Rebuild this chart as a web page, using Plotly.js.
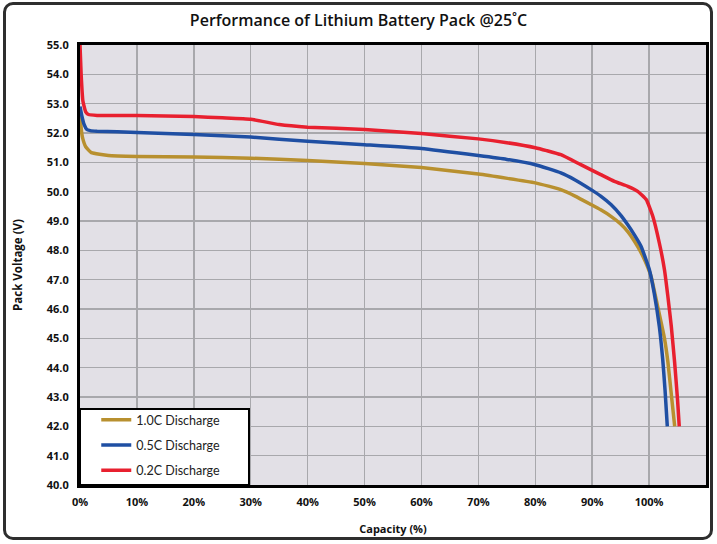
<!DOCTYPE html>
<html>
<head>
<meta charset="utf-8">
<script src="https://cdn.plot.ly/plotly-3.0.1.min.js"></script>
<style>
  html, body { margin: 0; padding: 0; background: #ffffff; }
  #wrap { position: relative; width: 717px; height: 544px; }
  #chart { position: absolute; left: 0; top: 0; width: 717px; height: 544px; }
  #frame { position: absolute; left: 3px; top: 2px; width: 704px; height: 532px;
           border: 3px solid #2e2e2e; border-radius: 10px; pointer-events: none; }
</style>
</head>
<body>
<div id="wrap">
  <div id="chart"></div>
  <div id="frame"></div>
</div>
<script>
// ---- Data ----
const seriesNames = ["1.0C Discharge", "0.5C Discharge", "0.2C Discharge"];
const seriesColors = ["#b8902f", "#1f4fa3", "#e8202f"];

const cap10C = [0, 0.3, 0.5, 1, 2, 5, 10, 20, 30, 40, 50, 60, 70, 80, 84.5, 87, 89.8, 91.5, 93.3, 95, 96.25, 98, 99.2, 100.35, 101.5, 102.7, 103.3, 103.9, 104.5];
const volt10C = [52.6, 52.0, 51.8, 51.53, 51.33, 51.23, 51.2, 51.18, 51.14, 51.06, 50.96, 50.82, 50.6, 50.3, 50.07, 49.85, 49.56, 49.38, 49.16, 48.9, 48.64, 48.13, 47.68, 47.11, 46.09, 45.0, 44.2, 43.1, 42.0];

const cap05C = [0, 0.3, 0.7, 1.2, 1.8, 3, 10, 20, 30, 40, 50, 60, 70, 75, 80, 84.5, 87, 89.8, 91.5, 93.3, 95, 96.25, 97.5, 98.6, 100.05, 100.9, 101.8, 102.4, 102.8, 103.2];
const volt05C = [52.9, 52.6, 52.3, 52.12, 52.08, 52.06, 52.02, 51.95, 51.86, 51.72, 51.6, 51.47, 51.23, 51.1, 50.92, 50.64, 50.4, 50.07, 49.85, 49.56, 49.2, 48.87, 48.5, 48.13, 47.34, 46.54, 45.4, 44.27, 43.24, 42.0];

const cap02C = [0, 0.2, 0.5, 1, 1.5, 3, 10, 20, 25, 30, 35, 40, 50, 60, 70, 75, 80, 82, 84.5, 88, 91.5, 93.9, 96.25, 98, 99.5, 100.65, 101.8, 102.7, 103.3, 103.9, 104.5, 105.0, 105.3];
const volt02C = [55.0, 54.0, 53.1, 52.72, 52.63, 52.6, 52.6, 52.56, 52.52, 52.47, 52.29, 52.2, 52.12, 51.98, 51.8, 51.67, 51.5, 51.4, 51.26, 50.92, 50.58, 50.35, 50.18, 50.01, 49.73, 49.16, 48.25, 47.34, 46.43, 45.41, 44.15, 42.9, 42.0];

const xTickVals = [0, 10, 20, 30, 40, 50, 60, 70, 80, 90, 100, 110];
const xTickText = ["0%", "10%", "20%", "30%", "40%", "50%", "60%", "70%", "80%", "90%", "100%", "110%"];
const yTickVals = [40, 41, 42, 43, 44, 45, 46, 47, 48, 49, 50, 51, 52, 53, 54, 55];
const yTickText = ["40.0", "41.0", "42.0", "43.0", "44.0", "45.0", "46.0", "47.0", "48.0", "49.0", "50.0", "51.0", "52.0", "53.0", "54.0", "55.0"];

// ---- Traces ----
const xs = [cap10C, cap05C, cap02C];
const ys = [volt10C, volt05C, volt02C];
const traces = xs.map((x, i) => ({
  x: x, y: ys[i], type: "scatter", mode: "lines",
  name: seriesNames[i], legendgroup: "g" + i,
  line: { color: seriesColors[i], width: 3.5, shape: "spline", smoothing: 0.4 }
}));

const FONT = "'Open Sans', sans-serif";
const LEGFONT = "Lato, 'Open Sans', sans-serif";

const layout = {
  width: 717, height: 544,
  margin: { l: 80, r: 11, t: 45, b: 59 },
  paper_bgcolor: "#ffffff",
  plot_bgcolor: "#e2e0e6",
  font: { family: FONT, color: "#111111" },
  title: {
    text: "Performance of Lithium Battery Pack @25˚C",
    font: { family: FONT, size: 16, weight: 600, color: "#111111" },
    x: 0.5, xanchor: "center", xref: "container",
    y: 1 - 20 / 544, yanchor: "middle", yref: "container"
  },
  xaxis: {
    range: [0, 110], tickvals: xTickVals, ticktext: xTickText,
    showgrid: true, gridcolor: "#a8a8ac", gridwidth: 1.5,
    zeroline: false, showline: true, linecolor: "#000000", linewidth: 3, mirror: true,
    ticks: "", ticklabelstandoff: 5,
    tickfont: { family: FONT, size: 11, weight: 700, color: "#111111" },
    title: { text: "Capacity (%)", font: { family: FONT, size: 11, weight: 700, color: "#111111" }, standoff: 18 }
  },
  yaxis: {
    range: [40, 55], tickvals: yTickVals, ticktext: yTickText,
    showgrid: true, gridcolor: "#a8a8ac", gridwidth: 1.5,
    zeroline: false, showline: true, linecolor: "#000000", linewidth: 3, mirror: true,
    ticks: "", ticklabelstandoff: 6,
    tickfont: { family: FONT, size: 11, weight: 700, color: "#111111" },
    title: { text: "Pack Voltage (V)", font: { family: FONT, size: 11.5, weight: 700, color: "#111111" }, standoff: 22 }
  },
  shapes: [{
    type: "rect", xref: "paper", yref: "paper",
    x0: 0, x1: (249 - 80) / 626, y0: 0, y1: (485 - 409) / 440,
    fillcolor: "#ffffff", line: { color: "#000000", width: 2 }, layer: "above"
  }],
  showlegend: true,
  legend: {
    x: 0.01 + 10 / 626, y: 0.0, xanchor: "left", yanchor: "bottom",
    bgcolor: "rgba(0,0,0,0)", borderwidth: 0,
    tracegroupgap: 6, traceorder: "grouped",
    font: { family: LEGFONT, size: 12.5, color: "#222222" }
  }
};

Plotly.newPlot("chart", traces, layout, { displayModeBar: false, staticPlot: true });
</script>
</body>
</html>
